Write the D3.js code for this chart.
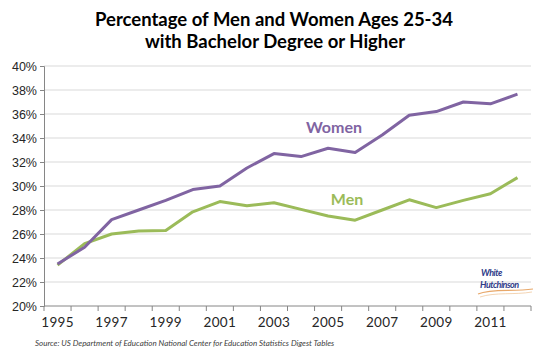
<!DOCTYPE html>
<html>
<head>
<meta charset="utf-8">
<script src="https://cdn.jsdelivr.net/npm/d3@7"></script>
<style>
  body { margin: 0; background: #fff; }
  #chart svg { display: block; font-family: Lato, "Open Sans", sans-serif; }
</style>
</head>
<body>
<div id="chart"></div>
<script>
// data
const years = d3.range(1995, 2013);
const women = [23.5, 24.9, 27.2, 28.0, 28.8, 29.7, 30.0, 31.5, 32.7, 32.45, 33.15, 32.8,
               34.25, 35.9, 36.2, 37.0, 36.85, 37.65];
const men = [23.4, 25.2, 26.0, 26.25, 26.3, 27.85, 28.7, 28.35, 28.6, 28.05, 27.5, 27.15,
             28.0, 28.85, 28.2, 28.8, 29.35, 30.7];
const yTicks = [20, 22, 24, 26, 28, 30, 32, 34, 36, 38, 40];
const xLabels = [1995, 1997, 1999, 2001, 2003, 2005, 2007, 2009, 2011];

const W = 540, H = 352;
const margin = {top: 66, right: 9, bottom: 46, left: 44},
    width = W - margin.left - margin.right,
    height = H - margin.top - margin.bottom;

const svg = d3.select("#chart")
    .append("svg")
    .attr("width", W)
    .attr("height", H);

const g = svg.append("g")
    .attr("transform", `translate(${margin.left},${margin.top})`);

// scales
const x = d3.scaleBand()
    .domain(years)
    .range([0, width]);

const y = d3.scaleLinear()
    .domain([20, 40])
    .range([height, 0]);

// gridlines
g.selectAll(".grid")
    .data(yTicks.filter(d => d > 20))
    .enter()
    .append("line")
    .attr("x1", 0)
    .attr("x2", width)
    .attr("y1", d => y(d))
    .attr("y2", d => y(d))
    .attr("stroke", "#d9d9d9")
    .attr("stroke-width", 1);

// y axis
const yAxis = g.append("g")
    .call(d3.axisLeft(y).tickValues(yTicks).tickSize(4).tickFormat(d => d + "%"));
yAxis.select(".domain").attr("stroke", "#868686");
yAxis.selectAll(".tick line").attr("stroke", "#868686");
yAxis.selectAll("text")
    .attr("x", -7)
    .attr("fill", "#262626")
    .style("font-size", "12.5px");

// x axis: ticks between categories like a category axis
const xAxis = g.append("g")
    .attr("transform", `translate(0,${height})`);
xAxis.append("line")
    .attr("x1", 0).attr("x2", width)
    .attr("stroke", "#868686");
xAxis.selectAll(".xtick")
    .data(years.concat([2013]))
    .enter()
    .append("line")
    .attr("x1", (d, i) => i < years.length ? x(d) : width)
    .attr("x2", (d, i) => i < years.length ? x(d) : width)
    .attr("y1", 0)
    .attr("y2", 5)
    .attr("stroke", "#868686");
xAxis.selectAll(".xlabel")
    .data(xLabels)
    .enter()
    .append("text")
    .attr("x", d => x(d) + x.bandwidth() / 2)
    .attr("y", 21)
    .attr("text-anchor", "middle")
    .attr("fill", "#262626")
    .style("font-size", "13.5px")
    .style("letter-spacing", "0.3px")
    .text(d => d);

// lines
const line = d3.line()
    .x((d, i) => x(years[i]) + x.bandwidth() / 2)
    .y(d => y(d));

const series = [
    {name: "Men", values: men, color: "#9bbb59", lx: 347, ly: 205},
    {name: "Women", values: women, color: "#8064a2", lx: 334, ly: 133}
];

g.selectAll(".series")
    .data(series)
    .enter()
    .append("path")
    .attr("d", d => line(d.values))
    .attr("fill", "none")
    .attr("stroke", d => d.color)
    .attr("stroke-width", 3)
    .attr("stroke-linejoin", "round");

svg.selectAll(".slabel")
    .data(series)
    .enter()
    .append("text")
    .attr("x", d => d.lx)
    .attr("y", d => d.ly)
    .attr("text-anchor", "middle")
    .attr("fill", d => d.color)
    .style("font-size", "16px")
    .style("font-weight", "bold")
    .text(d => d.name);

// title
const title = svg.append("text")
    .attr("text-anchor", "middle")
    .style("font-size", "18.5px")
    .style("font-weight", "bold")
    .attr("fill", "#000");
title.append("tspan").attr("x", 274).attr("y", 26)
    .text("Percentage of Men and Women Ages 25-34");
title.append("tspan").attr("x", 275).attr("y", 48)
    .text("with Bachelor Degree or Higher");

// source
svg.append("text")
    .attr("x", 35)
    .attr("y", 346)
    .style("font-size", "8px")
    .style("font-style", "italic")
    .attr("fill", "#404040")
    .text("Source: US Department of Education National Center for Education Statistics Digest Tables");

// logo
const logo = svg.append("g");
logo.append("text")
    .attr("x", 481).attr("y", 276)
    .style("font-size", "9px")
    .style("font-weight", "bold")
    .style("font-style", "italic")
    .style("letter-spacing", "-0.5px")
    .attr("fill", "#2e3a87")
    .text("White");
logo.append("text")
    .attr("x", 480).attr("y", 288)
    .style("font-size", "9px")
    .style("font-weight", "bold")
    .style("font-style", "italic")
    .style("letter-spacing", "-0.5px")
    .attr("fill", "#2e3a87")
    .text("Hutchinson");
logo.append("path")
    .attr("d", "M478,294 C492,288 512,292 533,289")
    .attr("fill", "none")
    .attr("stroke", "#e8a86a")
    .attr("stroke-width", 1.2);
logo.append("path")
    .attr("d", "M480,297 C495,292 515,295 532,292")
    .attr("fill", "none")
    .attr("stroke", "#f0c9a0")
    .attr("stroke-width", 0.8);
</script>
</body>
</html>
